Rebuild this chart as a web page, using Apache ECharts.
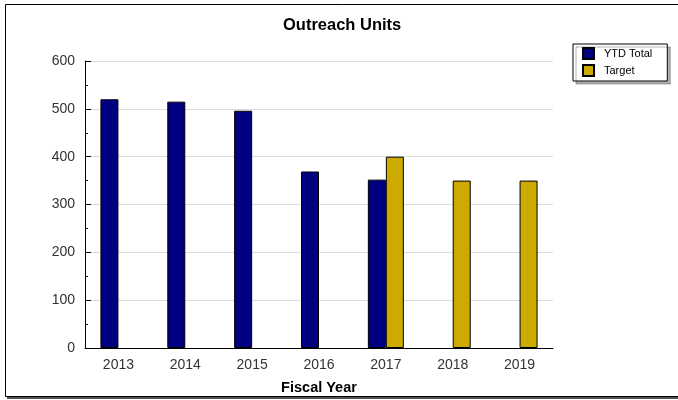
<!DOCTYPE html>
<html>
<head>
<meta charset="utf-8">
<script src="https://cdn.jsdelivr.net/npm/echarts@6/dist/echarts.min.js"></script>
<style>
  html, body { margin: 0; padding: 0; background: #fff; }
  #main { width: 678px; height: 400px; }
</style>
</head>
<body>
<div id="main"></div>
<script>
var years = ['2013', '2014', '2015', '2016', '2017', '2018', '2019'];
var ytdTotal = [520, 515, 496, 369, 352, null, null];
var target = [null, null, null, null, 400, 350, 350];

var myChart = echarts.init(document.querySelector('#main'));

var option = {
    backgroundColor: '#fff',
    textStyle: { fontFamily: 'Liberation Sans, Arial, sans-serif' },
    title: {
        text: 'Outreach Units',
        left: 283,
        top: 17,
        padding: 0,
        textStyle: { fontSize: 16.5, fontWeight: 'bold', color: '#000' },
    },
    // outer frame: a dark offset rect for the shadow, then the white framed panel
    graphic: [
        {
            type: 'rect',
            z: -11,
            shape: { x: 7, y: 6, width: 700, height: 393 },
            style: { fill: '#555' },
            silent: true,
        },
        {
            type: 'rect',
            z: -10,
            shape: { x: 5.5, y: 4.5, width: 700, height: 392 },
            style: { fill: '#fff', stroke: '#000', lineWidth: 1 },
            silent: true,
        },
    ],
    legend: {
        orient: 'vertical',
        left: 573,
        top: 44,
        padding: [3, 15, 4, 9],
        itemWidth: 11,
        itemHeight: 11,
        itemGap: 4,
        icon: 'rect',
        backgroundColor: '#fff',
        borderColor: '#000',
        borderWidth: 1,
        borderRadius: 0,
        shadowColor: 'rgba(0,0,0,0.3)',
        shadowOffsetX: 3,
        shadowOffsetY: 3,
        shadowBlur: 0,
        textStyle: { fontSize: 11, color: '#000', lineHeight: 12, padding: [0, 0, 0, 5] },
        data: ['YTD Total', 'Target'],
    },
    grid: {
        left: 85,
        right: 125,
        top: 61,
        bottom: 52,
    },
    xAxis: {
        type: 'category',
        data: years,
        name: 'Fiscal Year',
        nameLocation: 'middle',
        nameGap: 32,
        nameTextStyle: { fontSize: 14.5, fontWeight: 'bold', color: '#000' },
        axisLine: { lineStyle: { color: '#000', width: 1 } },
        axisTick: { inside: true, length: 6, lineStyle: { color: '#000' } },
        axisLabel: { fontSize: 14, color: '#333', margin: 10 },
    },
    yAxis: {
        type: 'value',
        min: 0,
        max: 600,
        interval: 100,
        axisLine: { show: true, lineStyle: { color: '#000', width: 1 } },
        axisTick: { show: true, inside: true, length: 6, lineStyle: { color: '#000' } },
        minorTick: { show: true, splitNumber: 2, length: 3, lineStyle: { color: '#000' } },
        axisLabel: { fontSize: 14, color: '#333', margin: 10 },
        splitLine: { lineStyle: { color: '#ddd' } },
    },
    series: [
        {
            name: 'YTD Total',
            type: 'bar',
            data: ytdTotal,
            barWidth: 18,
            barGap: 0,
            itemStyle: { color: '#000080', borderColor: '#000', borderWidth: 1 },
        },
        {
            name: 'Target',
            type: 'bar',
            data: target,
            barWidth: 18,
            barGap: 0,
            itemStyle: { color: '#ccaa00', borderColor: '#000', borderWidth: 1 },
        },
    ],
};

myChart.setOption(option);
</script>
</body>
</html>
